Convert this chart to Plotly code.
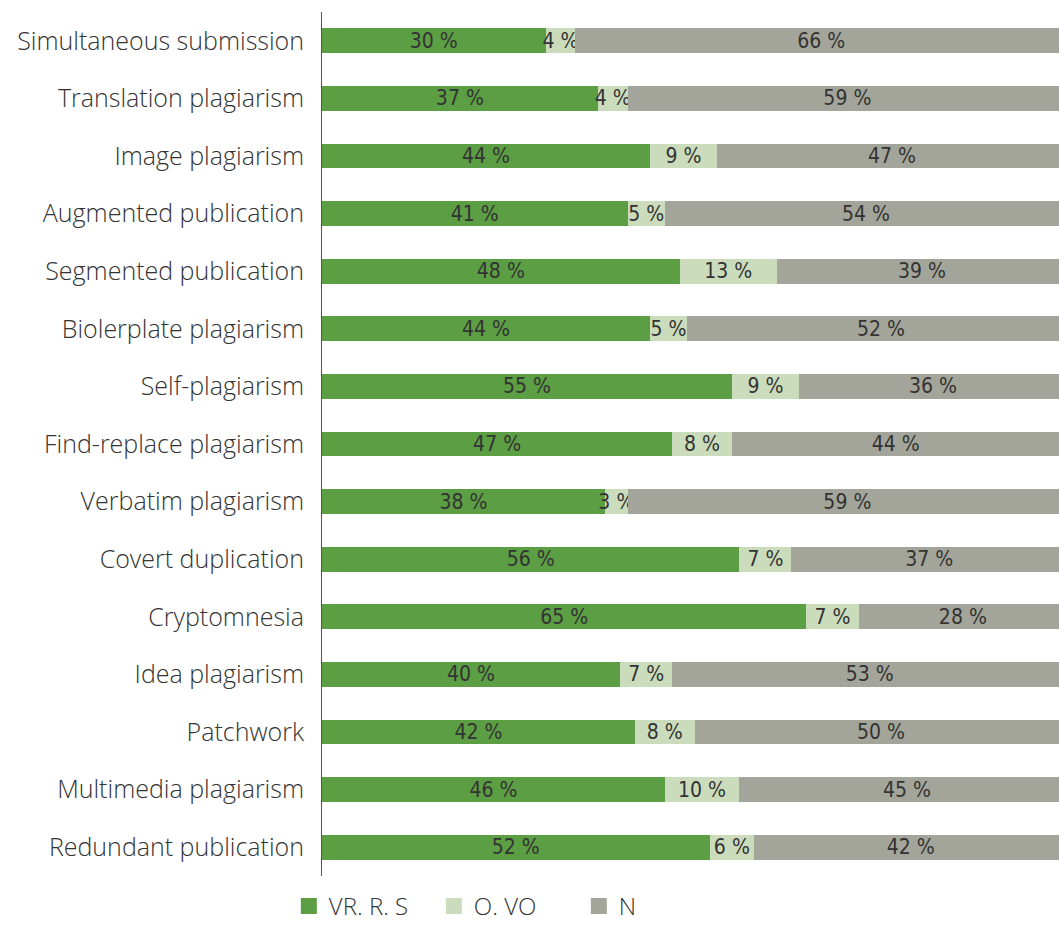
import plotly.graph_objects as go

categories = ["Simultaneous submission", "Translation plagiarism", "Image plagiarism",
              "Augmented publication", "Segmented publication", "Biolerplate plagiarism",
              "Self-plagiarism", "Find-replace plagiarism", "Verbatim plagiarism",
              "Covert duplication", "Cryptomnesia", "Idea plagiarism", "Patchwork",
              "Multimedia plagiarism", "Redundant publication"]
vr_r_s = [30, 37, 44, 41, 48, 44, 55, 47, 38, 56, 65, 40, 42, 46, 52]
o_vo = [4, 4, 9, 5, 13, 5, 9, 8, 3, 7, 7, 7, 8, 10, 6]
n_vals = [66, 59, 47, 54, 39, 52, 36, 44, 59, 37, 28, 53, 50, 45, 42]
series_names = ["VR. R. S", "O. VO", "N"]
colors = ["#5c9e43", "#cbdcbc", "#a3a59a"]

num_font = dict(family="DejaVu Sans Condensed, Liberation Sans Narrow, sans-serif",
                size=21, color="#333333")
label_font = dict(family="Open Sans, sans-serif", size=25, weight=300, color="#333333")
legend_font = dict(family="Open Sans, sans-serif", size=24, weight=300, color="#333333")

fig = go.Figure()
for name, vals, col in zip(series_names, [vr_r_s, o_vo, n_vals], colors):
    fig.add_trace(go.Bar(
        y=categories, x=vals, name=name, orientation="h",
        marker=dict(color=col, line=dict(width=0)),
        text=[f"{v} %" for v in vals], textposition="inside", textangle=0,
        insidetextanchor="middle", constraintext="none",
        textfont=num_font, cliponaxis=True, hoverinfo="skip", showlegend=False,
    ))
# legend entries with larger square swatches
for name, col in zip(series_names, colors):
    fig.add_trace(go.Scatter(
        x=[None], y=[None], mode="markers", name=name,
        marker=dict(symbol="square", size=18, color=col),
    ))

fig.update_layout(
    barmode="stack", bargap=0.57,
    width=1059, height=929,
    margin=dict(l=322, r=0, t=12, b=53),
    plot_bgcolor="white", paper_bgcolor="white",
    font=label_font,
    xaxis=dict(visible=False, range=[0, 98.9], fixedrange=True),
    yaxis=dict(autorange="reversed", showline=True, linecolor="#555555", linewidth=1,
               ticks="", ticklabelstandoff=12, showgrid=False, tickfont=label_font,
               fixedrange=True),
    legend=dict(orientation="h", x=-0.045, xanchor="left",
                yref="container", y=0.0, yanchor="bottom",
                font=legend_font, traceorder="normal", itemwidth=30,
                entrywidth=100, tracegroupgap=0),
)
fig.write_html("out.html", config={"displayModeBar": False},
               post_script="document.body.style.margin='0';document.body.style.overflow='hidden';")
